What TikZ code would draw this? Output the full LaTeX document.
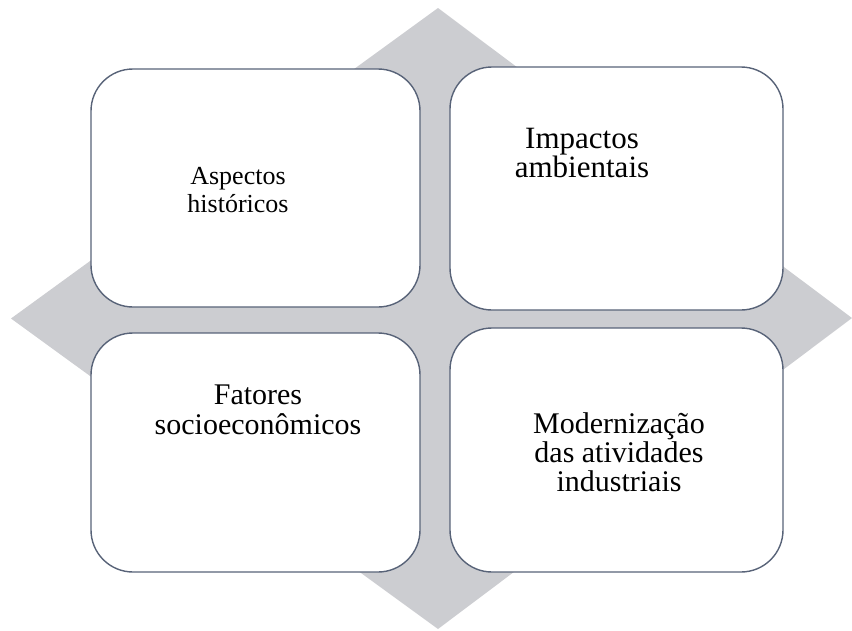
\documentclass[tikz,border=0pt]{standalone}
\usepackage{fontspec}
\setmainfont{Liberation Serif}

\begin{document}
\begin{tikzpicture}[x=1pt,y=-1pt]
% Define colours of the quadrant chart
\definecolor{diamondgray}{RGB}{204,205,209}
\definecolor{boxline}{RGB}{88,99,120}
\tikzset{
  quadbox/.style={draw=boxline,line width=1.4pt,fill=white,rounded corners=42pt,
    inner sep=0pt,minimum width=#1},
  quadtext/.style={anchor=north,inner sep=0pt,align=center}
}
\useasboundingbox (0,0) rectangle (852,630);

% Draw background diamond
\fill[diamondgray] (11,318.5) -- (438,8) -- (852,318) -- (438,629) -- cycle;

% Draw the four rounded boxes
\node[quadbox=329pt,minimum height=238pt] (hist) at (255.5,188) {};
\node[quadbox=333pt,minimum height=243pt] (amb) at (616.5,188.5) {};
\node[quadbox=329pt,minimum height=239pt] (socio) at (255.5,452.5) {};
\node[quadbox=333pt,minimum height=244pt] (mod) at (616.5,450) {};

% Add labels
\node[quadtext,font=\fontsize{26}{28}\selectfont] (histtext) at (238,167.5) {Aspectos\\históricos};
\node[quadtext,font=\fontsize{31}{29}\selectfont] (ambtext) at (582,127.5) {Impactos\\ambientais};
\node[quadtext,font=\fontsize{30}{30}\selectfont] (sociotext) at (258,385) {Fatores\\socioeconômicos};
\node[quadtext,font=\fontsize{30}{29}\selectfont] (modtext) at (619,412.5) {Modernização\\das atividades\\industriais};
\end{tikzpicture}
\end{document}
